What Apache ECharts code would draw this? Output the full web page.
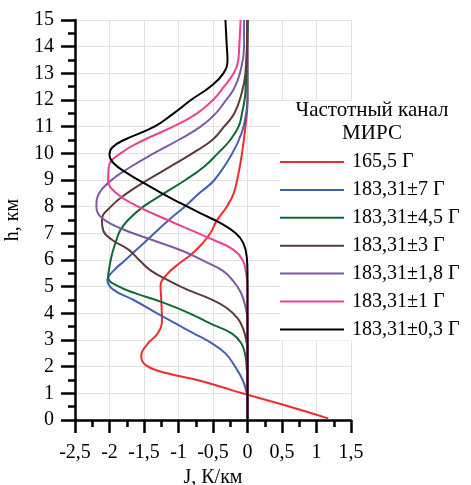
<!DOCTYPE html>
<html>
<head>
<meta charset="utf-8">
<script src="https://cdn.jsdelivr.net/npm/echarts@6/dist/echarts.min.js"></script>
<style>html,body{margin:0;padding:0;background:#fff}#c{width:471px;height:485px}</style>
</head>
<body>
<div id="c"></div>
<script>
// ---- data (J, K/km versus height h, km) ----
var seriesNames = ['165,5 Г', '183,31±7 Г', '183,31±4,5 Г', '183,31±3 Г', '183,31±1,8 Г', '183,31±1 Г', '183,31±0,3 Г'];
var legendTitle = 'Частотный канал\nМИРС';
var xTicks = [-2.5, -2, -1.5, -1, -0.5, 0, 0.5, 1, 1.5];

var h_red = [15, 12, 11, 10, 9.25, 8.5, 8.0, 7.5, 7.0, 6.6, 6.2, 5.85, 5.45, 5.05, 4.5, 3.75, 3.25, 2.85, 2.4, 2.05, 1.75, 1.5, 1.25, 1.02, 0.6, 0.06];
var J_red = [0, 0, -0.03, -0.08, -0.13, -0.20, -0.30, -0.44, -0.54, -0.66, -0.82, -1.0, -1.17, -1.26, -1.25, -1.24, -1.30, -1.45, -1.54, -1.47, -1.16, -0.73, -0.39, -0.10, 0.48, 1.17];

var h_blue = [15, 12, 11.5, 10.8, 10.0, 9.0, 8.5, 8.0, 7.5, 7.0, 6.5, 6.0, 5.6, 5.25, 4.9, 4.5, 4.0, 3.63, 3.25, 2.88, 2.5, 2.0, 1.5, 1.0, 0.9, 0];
var J_blue = [0, 0, -0.02, -0.08, -0.22, -0.48, -0.70, -0.91, -1.14, -1.35, -1.56, -1.77, -1.94, -2.03, -1.95, -1.65, -1.31, -1.05, -0.78, -0.52, -0.32, -0.18, -0.07, -0.01, 0, 0];

var h_green = [15, 12.3, 11.5, 11.0, 10.5, 10.0, 9.5, 9.0, 8.5, 8.0, 7.5, 7.13, 6.75, 6.25, 5.75, 5.35, 5.0, 4.75, 4.4, 4.0, 3.63, 3.25, 2.88, 2.4, 1.9, 1.5, 0];
var J_green = [0, -0.03, -0.08, -0.13, -0.25, -0.43, -0.63, -0.90, -1.21, -1.51, -1.73, -1.84, -1.90, -1.96, -2.0, -2.02, -1.86, -1.62, -1.22, -0.84, -0.55, -0.23, -0.09, -0.03, -0.01, 0, 0];

var h_brown = [15, 13, 12.3, 11.5, 11.0, 10.5, 10.0, 9.5, 9.0, 8.5, 8.0, 7.5, 7.1, 6.75, 6.38, 6.0, 5.6, 5.2, 4.85, 4.55, 4.2, 3.8, 3.4, 3.0, 2.7, 0];
var J_brown = [0, -0.03, -0.08, -0.19, -0.34, -0.51, -0.80, -1.12, -1.45, -1.75, -1.98, -2.11, -2.09, -1.96, -1.72, -1.57, -1.40, -1.12, -0.84, -0.55, -0.30, -0.14, -0.06, -0.02, 0, 0];

var h_purple = [15, 14, 13.0, 12.4, 12.0, 11.5, 11.0, 10.5, 10.0, 9.45, 9.0, 8.5, 8.0, 7.6, 7.2, 6.75, 6.33, 5.95, 5.6, 5.25, 4.8, 4.25, 3.7, 0];
var J_purple = [-0.05, -0.05, -0.11, -0.20, -0.31, -0.46, -0.68, -1.0, -1.36, -1.72, -1.97, -2.15, -2.19, -2.12, -1.85, -1.38, -0.93, -0.62, -0.36, -0.22, -0.10, -0.03, 0, 0];

var h_pink = [15, 14, 13.4, 13.0, 12.5, 12.0, 11.5, 11.0, 10.5, 10.0, 9.5, 9.0, 8.5, 8.05, 7.5, 7.13, 6.75, 6.38, 6.0, 5.5, 5.0, 0];
var J_pink = [-0.10, -0.12, -0.14, -0.20, -0.34, -0.50, -0.73, -1.08, -1.50, -1.84, -2.01, -2.02, -1.90, -1.62, -1.16, -0.83, -0.49, -0.20, -0.07, -0.02, 0, 0];

var h_black = [15, 14, 13.5, 13.0, 12.5, 12.0, 11.5, 11.0, 10.5, 10.22, 9.95, 9.63, 9.25, 8.88, 8.5, 8.13, 7.75, 7.38, 7.0, 6.63, 6.1, 5.5, 0];
var J_black = [-0.32, -0.30, -0.29, -0.35, -0.54, -0.82, -1.07, -1.35, -1.79, -1.96, -2.0, -1.94, -1.74, -1.50, -1.24, -0.97, -0.68, -0.39, -0.17, -0.06, -0.01, 0, 0];

var colors = ['#f52a2a', '#4560b2', '#0e6a32', '#5e3a36', '#7b5aa8', '#ee3f90', '#000000'];
var hs = [h_red, h_blue, h_green, h_brown, h_purple, h_pink, h_black];
var Js = [J_red, J_blue, J_green, J_brown, J_purple, J_pink, J_black];

// ---- chart ----
var FONT = 'Liberation Serif';
function pairs(J, h) { return J.map(function (v, i) { return [v, h[i]]; }); }
function comma(v) { return String(v).replace('.', ','); }

var series = seriesNames.map(function (name, i) {
  return {
    name: name, type: 'line', data: pairs(Js[i], hs[i]),
    showSymbol: false, symbol: 'none', smooth: 0.45,
    lineStyle: { color: colors[i], width: 2 }, itemStyle: { color: colors[i] },
    emphasis: { disabled: true }, silent: true
  };
});

var chart = echarts.init(document.getElementById('c'), null, { renderer: 'canvas' });
chart.setOption({
  animation: false,
  backgroundColor: '#fff',
  textStyle: { fontFamily: FONT },
  grid: { left: 75, right: 120, top: 20, bottom: 65, containLabel: false, outerBoundsMode: 'none' },
  xAxis: {
    type: 'value', min: xTicks[0], max: xTicks[xTicks.length - 1], interval: 0.5,
    axisLine: { show: true, onZero: false, lineStyle: { color: '#000', width: 2.5 } },
    axisTick: { show: true, length: 13, lineStyle: { color: '#000', width: 2.5 } },
    minorTick: { show: true, splitNumber: 2, length: 7, lineStyle: { color: '#000', width: 2.5 } },
    splitLine: { show: true, lineStyle: { color: '#e2e2e2', width: 1 } },
    axisLabel: { formatter: comma, fontFamily: FONT, fontSize: 20, color: '#000', margin: 23, showMinLabel: true, showMaxLabel: true },
    name: 'J, К/км', nameLocation: 'middle', nameGap: 44,
    nameTextStyle: { fontFamily: FONT, fontSize: 20, color: '#000' }
  },
  yAxis: {
    type: 'value', min: 0, max: 15, interval: 1,
    axisLine: { show: true, onZero: false, lineStyle: { color: '#000', width: 2.5 } },
    axisTick: { show: true, length: 14, lineStyle: { color: '#000', width: 2.5 } },
    minorTick: { show: true, splitNumber: 2, length: 7, lineStyle: { color: '#000', width: 2.5 } },
    splitLine: { show: true, lineStyle: { color: '#e2e2e2', width: 1 } },
    axisLabel: { fontFamily: FONT, fontSize: 20, color: '#000', margin: 21 },
    name: 'h, км', nameLocation: 'middle', nameGap: 41, nameRotate: 90,
    nameTextStyle: { fontFamily: FONT, fontSize: 20, color: '#000' }
  },
  legend: {
    orient: 'vertical', left: 280, top: 101,
    padding: [51, 40, 1, 0], backgroundColor: '#fff',
    itemWidth: 64, itemHeight: 2, itemGap: 7.9, icon: 'rect',
    selectedMode: false,
    data: seriesNames,
    textStyle: { fontFamily: FONT, fontSize: 20, color: '#000', padding: [0, 0, 0, 3] }
  },
  graphic: [{
    type: 'text', z: 100, zlevel: 0,
    style: {
      text: legendTitle, x: 372, y: 98.5,
      align: 'center', verticalAlign: 'top',
      fontFamily: FONT, fontSize: 21, lineHeight: 23, fill: '#000'
    }
  }],
  series: series
});
</script>
</body>
</html>
